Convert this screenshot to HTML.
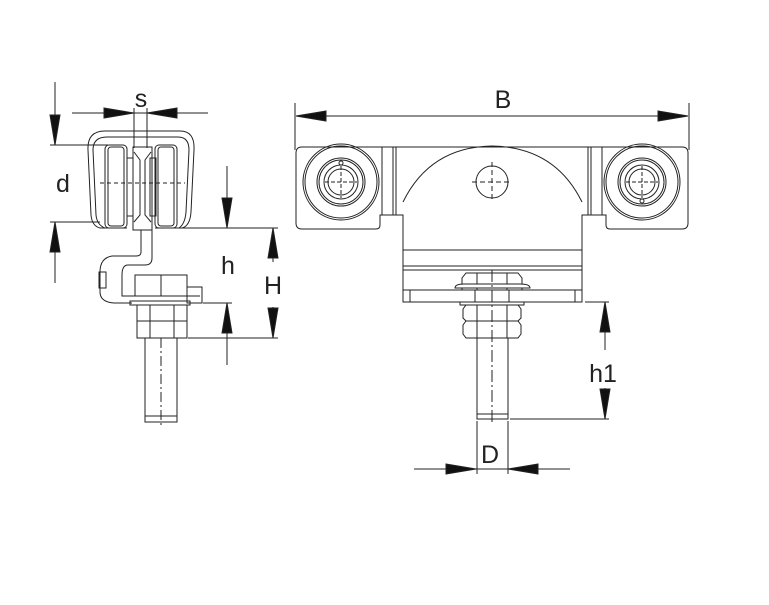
<!DOCTYPE html>
<html><head><meta charset="utf-8"><style>
html,body{margin:0;padding:0;background:#fff;}
svg{display:block}
text{font-family:"Liberation Sans",sans-serif;fill:#222;font-size:25px;text-anchor:middle}
</style></head><body>
<svg width="769" height="605" viewBox="0 0 769 605" xmlns="http://www.w3.org/2000/svg">
<g stroke="#222" stroke-width="1" fill="none">
<!-- ===== LEFT VIEW ===== -->
<line x1="55" y1="82" x2="55" y2="145"/>
<path d="M50,115 L55,145 L60,115 Z" fill="#111"/>
<line x1="55" y1="222" x2="55" y2="283"/>
<path d="M50,252 L55,222 L60,252 Z" fill="#111"/>
<line x1="50" y1="145" x2="108" y2="145"/>
<line x1="50" y1="222" x2="100" y2="222"/>
<line x1="72" y1="113" x2="208" y2="113"/>
<path d="M104,108 L134,113 L104,118 Z" fill="#111"/>
<path d="M177,108 L147,113 L177,118 Z" fill="#111"/>
<line x1="134" y1="108" x2="134" y2="148"/>
<line x1="147" y1="108" x2="147" y2="148"/>
<path d="M100,228 Q92,226 91,215 L88,150 Q87,131 105,131 L180,131 Q195,131 194,150 L191,212 Q190,226 182,228"/>
<path d="M105,228 Q97,225 96,215 L93,150 Q93,137 107,137 L178,137 Q189,137 189,150 L186,212 Q185,224 179,228"/>
<line x1="100" y1="228" x2="127" y2="228"/><line x1="155" y1="228" x2="182" y2="228"/>
<rect x="105" y="145" width="22" height="83" rx="4"/>
<rect x="108" y="147" width="16" height="79" rx="3"/>
<rect x="155" y="145" width="22" height="83" rx="4"/>
<rect x="158" y="147" width="16" height="79" rx="3"/>
<rect x="127" y="158" width="6" height="58"/><rect x="150" y="158" width="6" height="58"/>
<rect x="133" y="147" width="19" height="83"/>
<path d="M134,152 L140,160 L140,215 L134,222 M151,152 L145,160 L145,215 L151,222"/>
<line x1="100" y1="183" x2="185" y2="183" stroke-dasharray="4,3"/>
<path d="M141,230 L141,252 Q141,256 136,256 L112,256 Q100,258 100,272 L100,292 Q100,302 114,303 L132,303"/>
<path d="M152,230 L152,258 Q152,265 145,265 L128,265 Q122,265 122,275 L122,296 L200,296"/>
<rect x="99" y="272" width="7" height="16"/>
<rect x="135" y="275" width="52" height="21"/>
<line x1="161" y1="275" x2="161" y2="296"/>
<rect x="187" y="287" width="15" height="16"/>
<rect x="130" y="301" width="60" height="4"/>
<rect x="137" y="305" width="50" height="16"/><rect x="137" y="321" width="50" height="17"/>
<line x1="150" y1="305" x2="150" y2="338"/><line x1="174" y1="305" x2="174" y2="338"/>
<rect x="145" y="338" width="32" height="84"/>
<line x1="145" y1="416" x2="177" y2="416"/>
<line x1="161" y1="338" x2="161" y2="425" stroke-dasharray="10,3,2,3"/>
<line x1="227" y1="166" x2="227" y2="228"/>
<path d="M222,198 L227,228 L232,198 Z" fill="#111"/>
<line x1="182" y1="228" x2="278" y2="228"/>
<line x1="227" y1="303" x2="227" y2="365"/>
<path d="M222,333 L227,303 L232,333 Z" fill="#111"/>
<line x1="203" y1="303" x2="232" y2="303"/>
<line x1="273" y1="228" x2="273" y2="262"/>
<path d="M268,258 L273,228 L278,258 Z" fill="#111"/>
<line x1="273" y1="307" x2="273" y2="338"/>
<path d="M268,308 L273,338 L278,308 Z" fill="#111"/>
<line x1="188" y1="338" x2="278" y2="338"/>

<!-- ===== RIGHT VIEW ===== -->
<line x1="296" y1="116" x2="688" y2="116"/>
<path d="M326,111 L296,116 L326,121 Z" fill="#111"/>
<path d="M658,111 L688,116 L658,121 Z" fill="#111"/>
<line x1="295" y1="103" x2="295" y2="150"/>
<line x1="689" y1="103" x2="689" y2="150"/>
<path d="M302,147 L682,147 Q688,147 688,153 L688,223 Q688,229 682,229 L610,229 Q606,229 606,225 L606,215 L582,215 L582,302 L403,302 L403,215 L380,215 L380,225 Q380,229 376,229 L302,229 Q296,229 296,223 L296,153 Q296,147 302,147 Z"/>
<line x1="382" y1="147" x2="382" y2="215"/><line x1="393" y1="147" x2="393" y2="215"/><line x1="396" y1="147" x2="396" y2="215"/>
<line x1="602" y1="147" x2="602" y2="215"/><line x1="591" y1="147" x2="591" y2="215"/><line x1="588" y1="147" x2="588" y2="215"/>
<path d="M403,202 Q430,147 492,146 Q555,147 582,202"/>
<circle cx="492" cy="182" r="16"/>
<line x1="472" y1="182" x2="512" y2="182" stroke-dasharray="5,3"/>
<line x1="492" y1="162" x2="492" y2="202" stroke-dasharray="5,3"/>
<line x1="403" y1="250" x2="582" y2="250"/>
<line x1="403" y1="266" x2="582" y2="266"/><line x1="403" y1="270" x2="582" y2="270"/>
<line x1="403" y1="290" x2="582" y2="290"/>
<line x1="410" y1="290" x2="410" y2="302"/><line x1="575" y1="290" x2="575" y2="302"/>
<g>
<circle cx="341" cy="182" r="38"/><circle cx="341" cy="182" r="36"/>
<circle cx="341" cy="182" r="24"/><circle cx="341" cy="182" r="22"/>
<circle cx="341" cy="182" r="17"/><circle cx="341" cy="182" r="13"/>
<line x1="325" y1="182" x2="357" y2="182" stroke-dasharray="4,2"/><line x1="341" y1="166" x2="341" y2="198" stroke-dasharray="4,2"/>
<circle cx="341" cy="163" r="2"/>
</g>
<g>
<circle cx="642" cy="182" r="38"/><circle cx="642" cy="182" r="36"/>
<circle cx="642" cy="182" r="24"/><circle cx="642" cy="182" r="22"/>
<circle cx="642" cy="182" r="17"/><circle cx="642" cy="182" r="13"/>
<line x1="626" y1="182" x2="658" y2="182" stroke-dasharray="4,2"/><line x1="642" y1="166" x2="642" y2="198" stroke-dasharray="4,2"/>
<circle cx="642" cy="201" r="2"/>
</g>
<path d="M466,273 L518,273 L522,278 L522,290 L462,290 L462,278 Z" fill="#fff"/>
<line x1="477" y1="273" x2="477" y2="290"/><line x1="507" y1="273" x2="507" y2="290"/>
<path d="M455,288 Q455,284 464,284 L520,284 Q530,284 530,288 Z" fill="#fff"/>
<rect x="475" y="290" width="34" height="12"/>
<rect x="460" y="302" width="64" height="3"/>
<path d="M466,305 L518,305 L521,309 L521,318 L518,321 L466,321 L463,318 L463,309 Z"/>
<path d="M466,321 L518,321 L521,325 L521,334 L518,338 L466,338 L463,334 L463,325 Z"/>
<line x1="477" y1="305" x2="477" y2="338"/><line x1="507" y1="305" x2="507" y2="338"/>
<rect x="477" y="338" width="31" height="81"/>
<line x1="477" y1="414" x2="508" y2="414"/>
<line x1="492" y1="270" x2="492" y2="425" stroke-dasharray="12,3,2,3"/>
<line x1="585" y1="302" x2="609" y2="302"/>
<line x1="510" y1="419" x2="609" y2="419"/>
<line x1="605" y1="302" x2="605" y2="350"/>
<path d="M600,332 L605,302 L610,332 Z" fill="#111"/>
<line x1="605" y1="388" x2="605" y2="419"/>
<path d="M600,389 L605,419 L610,389 Z" fill="#111"/>
<line x1="477" y1="421" x2="477" y2="474"/><line x1="508" y1="421" x2="508" y2="474"/>
<line x1="414" y1="469" x2="570" y2="469"/>
<path d="M446,464 L476,469 L446,474 Z" fill="#111"/>
<path d="M538,464 L508,469 L538,474 Z" fill="#111"/>
</g>
<text x="63" y="192">d</text>
<text x="141" y="107">s</text>
<text x="228" y="274">h</text>
<text x="273" y="294">H</text>
<text x="503" y="108">B</text>
<text x="603" y="382">h1</text>
<text x="490" y="463">D</text>
</svg>
</body></html>
